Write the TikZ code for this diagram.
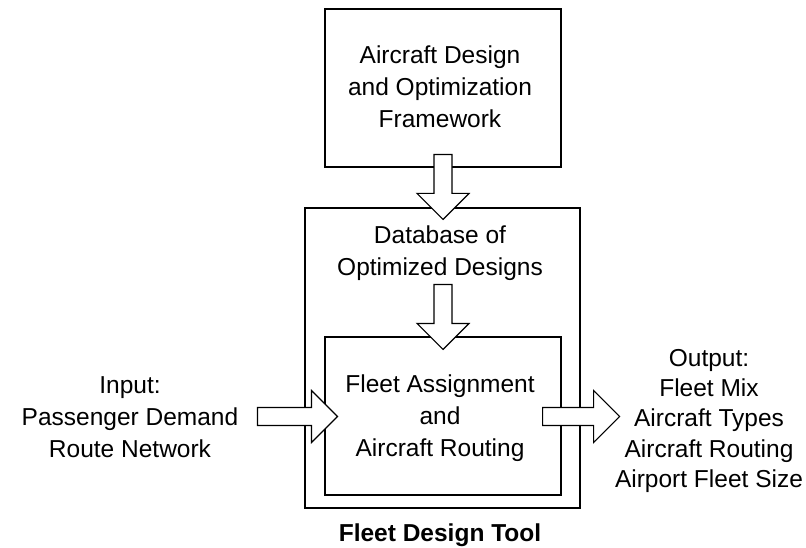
\documentclass[tikz,border=0pt]{standalone}
\usepackage{fontspec}
\setmainfont{Liberation Sans}
\usetikzlibrary{calc}
% vertical block arrow pointing down: #1 = start of shaft (centre), #2 = tip
\newcommand\vblock[2]{\draw[blockarrow] let \p1=#1, \p2=#2 in
  (\x1-9pt,\y1) -- (\x1-9pt,\y2+26pt) -- (\x1-26pt,\y2+26pt) -- (\x1,\y2)
  -- (\x1+26pt,\y2+26pt) -- (\x1+9pt,\y2+26pt) -- (\x1+9pt,\y1) -- cycle;}
% horizontal block arrow pointing right: #1 = start of shaft (centre), #2 = tip
\newcommand\hblock[2]{\draw[blockarrow] let \p1=#1, \p2=#2 in
  (\x1,\y1+9pt) -- (\x2-26pt,\y1+9pt) -- (\x2-26pt,\y1+26pt) -- (\x2,\y1)
  -- (\x2-26pt,\y1-26pt) -- (\x2-26pt,\y1-9pt) -- (\x1,\y1-9pt) -- cycle;}
\begin{document}
\begin{tikzpicture}[x=1pt,y=-1pt,
  box/.style={draw, line width=1.2pt, inner sep=0pt},
  blockarrow/.style={draw, fill=white, line width=1.2pt, line join=miter},
  txt/.style={align=center, anchor=north, inner sep=0pt,
    font=\fontsize{24.5}{32}\selectfont},
  outtxt/.style={txt, font=\fontsize{24.5}{30.3}\selectfont}]
\useasboundingbox (0,0) rectangle (806,548);
% boxes
\node[box, minimum width=236pt, minimum height=158pt] (adof) at (443,88) {};
\node[box, minimum width=275pt, minimum height=300pt] (fdt) at (442.5,358) {};
\node[box, minimum width=236pt, minimum height=158pt] (fa) at (443,416) {};
% texts
\node[txt] (adoftext) at (440,46) {Aircraft Design\\and Optimization\\Framework};
\node[txt] (dbtext) at (440,226) {Database of\\Optimized Designs};
\node[txt] (fatext) at (440,375) {Fleet Assignment\\and\\Aircraft Routing};
\node[txt] (intext) at (130,376) {Input:\\Passenger Demand\\Route Network};
\node[outtxt] (outtext) at (709,349) {Output:\\Fleet Mix\\Aircraft Types\\Aircraft Routing\\Airport Fleet Size};
\node[txt, font=\fontsize{24.5}{32}\selectfont\bfseries] (fdtlabel) at (440,524) {Fleet Design Tool};
% block arrows
\vblock{($(adof.south)+(0,-13)$)}{($(fdt.north)+(0,12)$)}
\vblock{($(fa.north)+(0,-52)$)}{($(fa.north)+(0,13)$)}
\hblock{($(fa.west)+(-67,0.5)$)}{($(fa.west)+(13,0.5)$)}
\hblock{($(fa.east)+(-19,0.5)$)}{($(fa.east)+(58,0.5)$)}
\end{tikzpicture}
\end{document}
